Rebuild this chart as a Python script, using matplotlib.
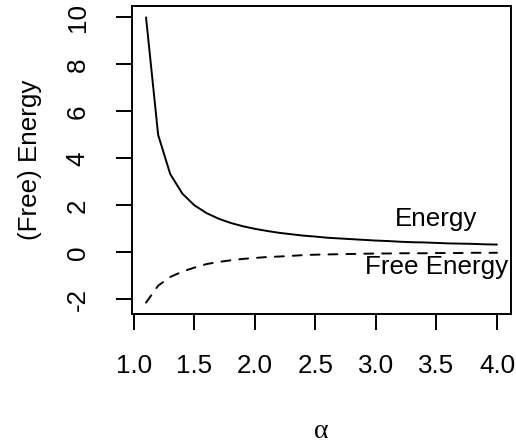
import matplotlib
matplotlib.use("Agg")
import matplotlib.pyplot as plt

# values
alpha = [1.1, 1.2, 1.3, 1.4, 1.5, 1.6, 1.7, 1.8, 1.9, 2.0,
         2.1, 2.2, 2.3, 2.4, 2.5, 2.6, 2.7, 2.8, 2.9, 3.0,
         3.1, 3.2, 3.3, 3.4, 3.5, 3.6, 3.7, 3.8, 3.9, 4.0]
energy = [10.0, 5.0, 3.33, 2.5, 2.0, 1.67, 1.43, 1.25, 1.11, 1.0,
          0.91, 0.83, 0.77, 0.71, 0.67, 0.62, 0.59, 0.56, 0.53, 0.5,
          0.48, 0.45, 0.43, 0.42, 0.4, 0.38, 0.37, 0.36, 0.34, 0.33]
free_energy = [-2.14, -1.42, -1.05, -0.82, -0.65, -0.50, -0.41, -0.34, -0.28, -0.24,
               -0.20, -0.18, -0.15, -0.12, -0.10, -0.09, -0.08, -0.07, -0.06, -0.05,
               -0.05, -0.04, -0.04, -0.04, -0.03, -0.03, -0.03, -0.02, -0.02, -0.02]
xticks = [1.0, 1.5, 2.0, 2.5, 3.0, 3.5, 4.0]
yticks = [-2, 0, 2, 4, 6, 8, 10]

plt.rcParams['font.family'] = ['Liberation Sans', 'DejaVu Sans']
fs = 18.7

W, H = 516, 445
fig = plt.figure(figsize=(W / 100, H / 100), dpi=100)
ax = fig.add_axes([132 / W, 1 - 314 / H, (511 - 132) / W, (314 - 6) / H])

lw = 1.4
ax.plot(alpha, energy, color='black', lw=lw, solid_capstyle='round')
ax.plot(alpha, free_energy, color='black', lw=lw, linestyle=(0, (4.6, 4.6)),
        dash_capstyle='round')

ax.text(3.5, 1.1, "Energy", fontsize=fs, ha='center', va='baseline')
ax.text(3.5, -0.94, "Free Energy", fontsize=fs, ha='center', va='baseline')

# R-like axis ranges (4% padding)
xr = max(alpha) - min(alpha)
ax.set_xlim(min(alpha) - 0.04 * xr, max(alpha) + 0.04 * xr)
ymin, ymax = min(free_energy), max(energy)
yr = ymax - ymin
ax.set_ylim(ymin - 0.04 * yr, ymax + 0.04 * yr)

ax.set_xticks(xticks)
ax.set_xticklabels([f"{v:.1f}" for v in xticks])
ax.set_yticks(yticks)
ax.set_yticklabels([str(v) for v in yticks], rotation=90, va='center')
ax.tick_params(direction='out', length=11.5, width=lw, labelsize=fs, color='black')
ax.tick_params(axis='x', pad=17)
ax.tick_params(axis='y', pad=19)
for s in ax.spines.values():
    s.set_linewidth(lw)

fig.text(30 / W, 1 - 160 / H, "(Free) Energy", rotation=90, fontsize=fs,
         ha='center', va='center')
fig.text(321.5 / W, 1 - 438 / H, "α", fontsize=20, family=['Liberation Serif', 'DejaVu Serif'],
         ha='center', va='baseline')

fig.savefig("out.png", dpi=100)
